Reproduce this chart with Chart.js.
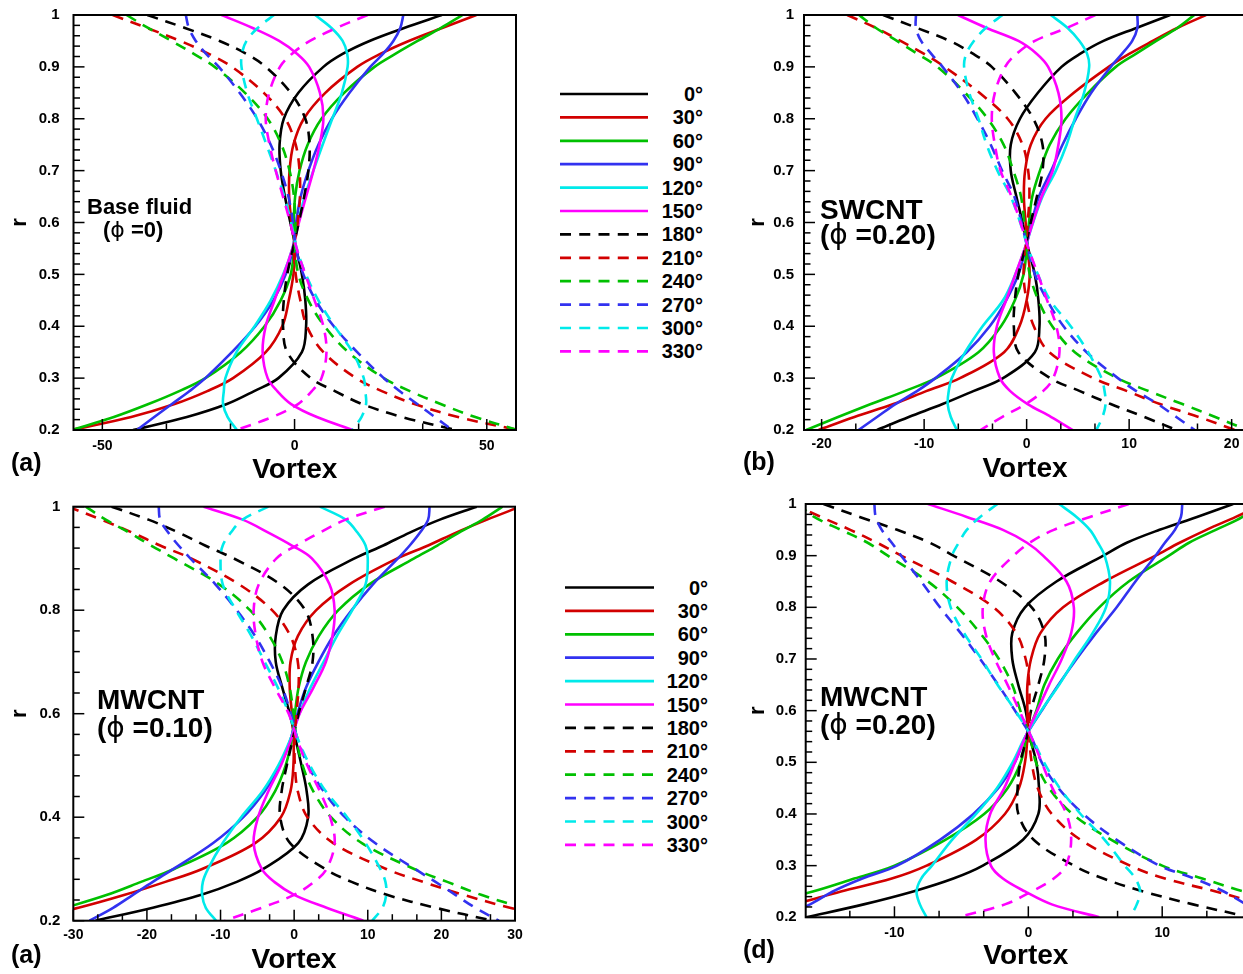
<!DOCTYPE html>
<html>
<head>
<meta charset="utf-8">
<script src="https://cdn.jsdelivr.net/npm/chart.js@4.4.1/dist/chart.umd.min.js"></script>
<style>
body { margin: 0; background: #fff; overflow: hidden; }
#page { position: relative; width: 1243px; height: 974px; overflow: hidden; background: #fff;
        font-family: 'Liberation Sans', Arial, sans-serif; font-weight: bold; color: #000; }
canvas { position: absolute; }
.lbl { position: absolute; white-space: nowrap; line-height: 1; }
.phi { font-family: 'DejaVu Sans', sans-serif; font-weight: normal; }
svg { position: absolute; }
svg text { font-family: 'Liberation Sans', Arial, sans-serif; font-weight: bold; font-size: 20px; }
</style>
</head>
<body>
<div id="page">
  <canvas id="cA" width="530" height="490" style="left:0px;top:0px"></canvas>
  <canvas id="cB" width="506" height="490" style="left:740px;top:0px"></canvas>
  <canvas id="cC" width="530" height="490" style="left:0px;top:490px"></canvas>
  <canvas id="cD" width="506" height="490" style="left:740px;top:490px"></canvas>

  <div class="lbl" style="left:87px;top:196px;font-size:22px">Base fluid</div>
  <div class="lbl" style="left:103px;top:219px;font-size:22px">(<span class="phi">ϕ</span> =0)</div>
  <div class="lbl" style="left:820px;top:196px;font-size:28px">SWCNT</div>
  <div class="lbl" style="left:820px;top:221px;font-size:28px">(<span class="phi">ϕ</span> =0.20)</div>
  <div class="lbl" style="left:97px;top:686px;font-size:28px">MWCNT</div>
  <div class="lbl" style="left:97px;top:714px;font-size:28px">(<span class="phi">ϕ</span> =0.10)</div>
  <div class="lbl" style="left:820px;top:683px;font-size:28px">MWCNT</div>
  <div class="lbl" style="left:820px;top:711px;font-size:28px">(<span class="phi">ϕ</span> =0.20)</div>

  <div class="lbl" style="left:11px;top:450px;font-size:25px">(a)</div>
  <div class="lbl" style="left:743px;top:449px;font-size:25px">(b)</div>
  <div class="lbl" style="left:11px;top:942px;font-size:25px">(a)</div>
  <div class="lbl" style="left:743px;top:937px;font-size:25px">(d)</div>

  <svg id="leg1" width="200" height="300" style="left:540px;top:70px"></svg>
  <svg id="leg2" width="200" height="300" style="left:540px;top:570px"></svg>
</div>
<script>
// angles of the 12 curves, and the r positions where each curve was read
const angles = [0, 30, 60, 90, 120, 150, 180, 210, 240, 270, 300, 330];
const rVals = [1, 0.975, 0.95, 0.925, 0.9, 0.85, 0.8, 0.75, 0.7, 0.65, 0.6, 0.55, 0.5, 0.45, 0.4, 0.35, 0.3, 0.275, 0.25, 0.225, 0.2];

// (a) Base fluid, phi = 0
const vortexA = [
  [38.3, 28.5, 19.5, 12.5, 7.5, 1.0, -2.8, -3.9, -3.6, -2.5, -1.1, 0.4, 1.9, 2.8, 3.0, 1.9, -4.2, -10.5, -17.6, -28, -42],
  [47.3, 38.4, 29.7, 22.3, 16.3, 8.0, 2.4, -0.3, -1.3, -1.4, -0.8, 0.15, -0.3, -1.5, -3.2, -7.5, -16, -22.7, -31.2, -42.5, -58],
  [43.7, 38.1, 32.0, 26.2, 20.8, 12.9, 7.0, 3.4, 1.3, 0.15, -0.2, -0.15, -1.0, -3.6, -7.8, -14, -23.2, -30, -38, -47, -58],
  [28.3, 27.5, 25.7, 23.0, 19.7, 14.3, 9.7, 6.2, 3.6, 1.6, 0.4, -0.4, -2.3, -5.5, -10.2, -16.3, -23.2, -27.3, -31.9, -36.5, -41],
  [5.35, 9.6, 12.5, 13.7, 13.8, 12.3, 9.8, 7.3, 4.9, 2.65, 0.9, -0.55, -2.95, -6.2, -10.4, -15.1, -18.0, -18.4, -18.6, -17.4, -15],
  [-19.0, -10.9, -4.0, 0.7, 3.8, 6.6, 7.5, 6.5, 4.9, 3.0, 1.15, -0.55, -2.8, -5.2, -7.5, -8.3, -7.0, -4.5, -0.9, 5.8, 15.2],
  [-38.3, -28.5, -19.5, -12.5, -7.5, -1.0, 2.8, 3.9, 3.6, 2.5, 1.1, -0.4, -1.9, -2.8, -3.0, -1.9, 4.2, 10.5, 17.6, 28, 42],
  [-47.3, -38.4, -29.7, -22.3, -16.3, -8.0, -2.4, 0.3, 1.3, 1.4, 0.8, -0.15, 0.3, 1.5, 3.2, 7.5, 16, 22.7, 31.2, 42.5, 58],
  [-43.7, -38.1, -32.0, -26.2, -20.8, -12.9, -7.0, -3.4, -1.3, -0.15, 0.2, 0.15, 1.0, 3.6, 7.8, 14, 23.2, 30, 38, 47, 58],
  [-28.3, -27.5, -25.7, -23.0, -19.7, -14.3, -9.7, -6.2, -3.6, -1.6, -0.4, 0.4, 2.3, 5.5, 10.2, 16.3, 23.2, 27.3, 31.9, 36.5, 41],
  [-5.35, -9.6, -12.5, -13.7, -13.8, -12.3, -9.8, -7.3, -4.9, -2.65, -0.9, 0.55, 2.95, 6.2, 10.4, 15.1, 18.0, 18.4, 18.6, 17.4, 15],
  [19.0, 10.9, 4.0, -0.7, -3.8, -6.6, -7.5, -6.5, -4.9, -3.0, -1.15, 0.55, 2.8, 5.2, 7.5, 8.3, 7.0, 4.5, 0.9, -5.8, -15.2]
];

// (b) SWCNT, phi = 0.20
const vortexB = [
  [14.0, 10.7, 7.5, 5.2, 3.4, 1.1, -0.65, -1.55, -1.55, -1.0, -0.4, 0.15, 0.8, 1.15, 1.25, 0.8, -2.3, -5.2, -8.2, -11.5, -14.6],
  [17.5, 14.7, 12.3, 10.0, 8.0, 4.6, 1.85, 0.4, -0.15, -0.27, -0.1, 0.08, 0.3, 0, -0.7, -2.2, -6.5, -9.8, -13.0, -16.8, -20.3],
  [16.35, 14.7, 12.65, 10.65, 8.7, 6.0, 3.8, 2.25, 1.3, 0.55, 0.23, 0, -0.3, -1.15, -2.5, -4.7, -8.85, -11.9, -15.2, -18.4, -21.5],
  [10.8, 10.8, 10.3, 9.3, 8.2, 6.3, 4.8, 3.5, 2.4, 1.2, 0.5, -0.1, -0.8, -2.0, -3.6, -5.85, -8.9, -10.7, -12.8, -14.6, -16.4],
  [2.35, 4.0, 5.15, 5.9, 6.1, 5.6, 4.7, 3.9, 2.85, 1.55, 0.63, -0.17, -1.1, -2.3, -4.3, -6.0, -7.3, -7.6, -7.7, -7.4, -6.8],
  [-6.7, -3.9, -0.8, 1.0, 2.1, 3.1, 3.4, 3.1, 2.55, 1.47, 0.6, -0.18, -1.1, -2.0, -2.9, -3.2, -2.6, -1.6, 0.1, 2.4, 4.5],
  [-14.0, -10.7, -7.5, -5.2, -3.4, -1.1, 0.65, 1.55, 1.55, 1.0, 0.4, -0.15, -0.8, -1.15, -1.25, -0.8, 2.3, 5.2, 8.2, 11.5, 14.6],
  [-17.5, -14.7, -12.3, -10.0, -8.0, -4.6, -1.85, -0.4, 0.15, 0.27, 0.1, -0.08, -0.3, 0, 0.7, 2.2, 6.5, 9.8, 13.0, 16.8, 20.3],
  [-16.35, -14.7, -12.65, -10.65, -8.7, -6.0, -3.8, -2.25, -1.3, -0.55, -0.23, 0, 0.3, 1.15, 2.5, 4.7, 8.85, 11.9, 15.2, 18.4, 21.5],
  [-10.8, -10.8, -10.3, -9.3, -8.2, -6.3, -4.8, -3.5, -2.4, -1.2, -0.5, 0.1, 0.8, 2.0, 3.6, 5.85, 8.9, 10.7, 12.8, 14.6, 16.4],
  [-2.35, -4.0, -5.15, -5.9, -6.1, -5.6, -4.7, -3.9, -2.85, -1.55, -0.63, 0.17, 1.1, 2.3, 4.3, 6.0, 7.3, 7.6, 7.7, 7.4, 6.8],
  [6.7, 3.9, 0.8, -1.0, -2.1, -3.1, -3.4, -3.1, -2.55, -1.47, -0.6, 0.18, 1.1, 2.0, 2.9, 3.2, 2.6, 1.6, -0.1, -2.4, -4.5]
];

// (c) MWCNT, phi = 0.10
const vortexC = [
  [24.8, 19.8, 15.7, 12.1, 8.2, 1.9, -1.5, -2.5, -2.5, -1.6, -0.6, 0.2, 1.0, 1.7, 1.9, 0.55, -4.2, -7.8, -12.6, -19.2, -27.0],
  [30.7, 26.2, 22.0, 18.2, 14.0, 7.5, 3.0, 0.5, -0.5, -0.6, -0.3, -0.08, -0.1, -0.5, -1.8, -5.3, -12.5, -17.5, -23, -29.3, -37.2],
  [28.3, 25.6, 22.4, 19.45, 16.3, 10.2, 6.0, 3.35, 1.6, 0.6, 0.1, -0.33, -1.15, -2.6, -5.0, -9.2, -16.3, -20.8, -25.4, -31.1, -37.5],
  [18.4, 18.2, 17.1, 15.7, 14.1, 10.7, 7.8, 5.3, 3.3, 1.6, 0.45, -0.5, -1.9, -4.0, -6.9, -11.0, -16.4, -19.2, -21.9, -24.6, -27.8],
  [3.5, 7.0, 8.6, 9.7, 10.0, 9.7, 7.9, 5.8, 4.0, 2.2, 0.7, -0.53, -2.15, -4.3, -7.2, -9.7, -11.7, -12.4, -12.5, -12.0, -10.6],
  [-12.3, -7.0, -3.5, -0.3, 2.4, 4.8, 5.5, 5.2, 4.3, 2.6, 0.74, -0.42, -1.8, -3.5, -4.9, -5.5, -4.4, -2.7, 0, 4.4, 9.4],
  [-24.8, -19.8, -15.7, -12.1, -8.2, -1.9, 1.5, 2.5, 2.5, 1.6, 0.6, -0.2, -1.0, -1.7, -1.9, -0.55, 4.2, 7.8, 12.6, 19.2, 27.0],
  [-30.7, -26.2, -22.0, -18.2, -14.0, -7.5, -3.0, -0.5, 0.5, 0.6, 0.3, 0.08, 0.1, 0.5, 1.8, 5.3, 12.5, 17.5, 23, 29.3, 37.2],
  [-28.3, -25.6, -22.4, -19.45, -16.3, -10.2, -6.0, -3.35, -1.6, -0.6, -0.1, 0.33, 1.15, 2.6, 5.0, 9.2, 16.3, 20.8, 25.4, 31.1, 37.5],
  [-18.4, -18.2, -17.1, -15.7, -14.1, -10.7, -7.8, -5.3, -3.3, -1.6, -0.45, 0.5, 1.9, 4.0, 6.9, 11.0, 16.4, 19.2, 21.9, 24.6, 27.8],
  [-3.5, -7.0, -8.6, -9.7, -10.0, -9.7, -7.9, -5.8, -4.0, -2.2, -0.7, 0.53, 2.15, 4.3, 7.2, 9.7, 11.7, 12.4, 12.5, 12.0, 10.6],
  [12.3, 7.0, 3.5, 0.3, -2.4, -4.8, -5.5, -5.2, -4.3, -2.6, -0.74, 0.42, 1.8, 3.5, 4.9, 5.5, 4.4, 2.7, 0, -4.4, -9.4]
];

// (d) MWCNT, phi = 0.20
const vortexD = [
  [15.3, 12.6, 9.8, 7.35, 5.6, 2.1, -0.25, -1.2, -1.2, -0.75, -0.2, 0.1, 0.6, 0.8, 0.75, -0.4, -3.4, -5.6, -8.6, -12.3, -16.6],
  [17.6, 15.5, 13.3, 11.3, 9.5, 5.7, 2.6, 0.9, 0.2, -0.07, -0.07, -0.07, -0.25, -0.7, -1.75, -3.9, -7.6, -10.2, -14.0, -17.5, -21.5],
  [17.2, 16.0, 14.0, 12.0, 10.5, 7.5, 5.3, 3.6, 2.2, 1.2, 0.6, -0.12, -0.57, -1.55, -3.3, -6.2, -10.0, -13.0, -16.1, -20.0, -24.3],
  [11.5, 11.4, 10.95, 10.2, 9.5, 8.0, 6.6, 5.05, 3.6, 2.25, 1.0, -0.2, -1.0, -2.25, -4.1, -6.6, -9.8, -12.4, -14.6, -16.3, -18.5],
  [2.3, 3.6, 4.6, 5.2, 5.7, 6.1, 5.8, 4.8, 3.5, 2.3, 0.97, -0.22, -1.17, -2.35, -3.9, -5.7, -7.2, -8.0, -8.35, -8.1, -7.6],
  [-7.5, -4.6, -1.9, -0.1, 1.1, 2.85, 3.4, 3.2, 2.5, 1.55, 0.67, -0.2, -1.0, -1.8, -2.85, -3.2, -2.8, -1.9, -0.25, 1.75, 5.3],
  [-15.3, -12.6, -9.8, -7.35, -5.6, -2.1, 0.25, 1.2, 1.2, 0.75, 0.2, -0.1, -0.6, -0.8, -0.75, 0.4, 3.4, 5.6, 8.6, 12.3, 16.6],
  [-17.6, -15.5, -13.3, -11.3, -9.5, -5.7, -2.6, -0.9, -0.2, 0.07, 0.07, 0.07, 0.25, 0.7, 1.75, 3.9, 7.6, 10.2, 14.0, 17.5, 21.5],
  [-17.2, -16.0, -14.0, -12.0, -10.5, -7.5, -5.3, -3.6, -2.2, -1.2, -0.6, 0.12, 0.57, 1.55, 3.3, 6.2, 10.0, 13.0, 16.1, 20.0, 24.3],
  [-11.5, -11.4, -10.95, -10.2, -9.5, -8.0, -6.6, -5.05, -3.6, -2.25, -1.0, 0.2, 1.0, 2.25, 4.1, 6.6, 9.8, 12.4, 14.6, 16.3, 18.5],
  [-2.3, -3.6, -4.6, -5.2, -5.7, -6.1, -5.8, -4.8, -3.5, -2.3, -0.97, 0.22, 1.17, 2.35, 3.9, 5.7, 7.2, 8.0, 8.35, 8.1, 7.6],
  [7.5, 4.6, 1.9, 0.1, -1.1, -2.85, -3.4, -3.2, -2.5, -1.55, -0.67, 0.2, 1.0, 1.8, 2.85, 3.2, 2.8, 1.9, 0.25, -1.75, -5.3]
];

// tick labels
const xTicksA = [-50, 0, 50];
const xTicksB = [-20, -10, 0, 10, 20];
const xTicksC = [-30, -20, -10, 0, 10, 20, 30];
const xTicksD = [-10, 0, 10];
const yTicksFine = [0.2, 0.3, 0.4, 0.5, 0.6, 0.7, 0.8, 0.9, 1];
const yTicksCoarse = [0.2, 0.4, 0.6, 0.8, 1];

const colors = ['#000000', '#d20000', '#00c000', '#3232f0', '#00eaea', '#ff00ff'];
const FONT = "'Liberation Sans', Arial, sans-serif";

// frame round the plot and Tecplot-like inward ticks (major + minor)
const frameTicks = {
  id: 'frameTicks',
  afterDatasetsDraw(chart, args, opts) {
    const {ctx, chartArea: a} = chart;
    const xs = chart.scales.x, ys = chart.scales.y;
    ctx.save();
    ctx.strokeStyle = '#000';
    ctx.lineWidth = 1.5;
    const mark = (scale, major, minor, horiz) => {
      const k0 = Math.ceil(scale.min / minor - 1e-6);
      const k1 = Math.floor(scale.max / minor + 1e-6);
      for (let k = k0; k <= k1; k++) {
        const v = k * minor;
        const q = v / major;
        const len = Math.abs(q - Math.round(q)) < 1e-6 ? 11 : 6.5;
        const p = scale.getPixelForValue(v);
        ctx.beginPath();
        if (horiz) { ctx.moveTo(p, a.bottom); ctx.lineTo(p, a.bottom - len); }
        else { ctx.moveTo(a.left, p); ctx.lineTo(a.left + len, p); }
        ctx.stroke();
      }
    };
    mark(xs, opts.xMajor, opts.xMinor, true);
    mark(ys, opts.yMajor, opts.yMinor, false);
    ctx.lineWidth = 2;
    ctx.strokeRect(a.left, a.top, a.right - a.left, a.bottom - a.top);
    ctx.restore();
  }
};

function makePanel(id, rows, cfg) {
  const datasets = rows.map((vals, i) => ({
    label: angles[i] + '°',
    data: vals.map((v, j) => ({x: v, y: rVals[j]})),
    borderColor: colors[i % 6],
    backgroundColor: colors[i % 6],
    borderWidth: 2.6,
    borderDash: i < 6 ? [] : [11, 8],
    pointRadius: 0,
    showLine: true,
    fill: false,
    tension: 0.35,
    order: 12 - i
  }));

  new Chart(document.getElementById(id), {
    type: 'scatter',
    data: { datasets },
    plugins: [frameTicks],
    options: {
      responsive: false,
      animation: false,
      devicePixelRatio: 1,
      layout: { padding: { top: cfg.padTop, right: cfg.padRight, left: 0, bottom: 0 } },
      plugins: {
        legend: { display: false },
        tooltip: { enabled: false },
        frameTicks: { xMajor: cfg.xMajor, xMinor: cfg.xMajor / 3, yMajor: cfg.yMajor, yMinor: cfg.yMajor / 5 }
      },
      scales: {
        x: {
          type: 'linear',
          min: cfg.xMin,
          max: cfg.xMax,
          afterBuildTicks: s => { s.ticks = cfg.xTicks.map(v => ({ value: v })); },
          afterFit: s => { s.height = cfg.xHeight; s.paddingLeft = 0; s.paddingRight = 0; },
          grid: { display: false, drawTicks: false },
          border: { display: false },
          ticks: {
            autoSkip: false, maxRotation: 0, padding: cfg.xLabPad, color: '#000',
            font: { family: FONT, weight: 'bold', size: 14 },
            callback: v => String(v)
          },
          title: {
            display: true, text: 'Vortex', color: '#000',
            font: { family: FONT, weight: 'bold', size: 28 },
            padding: { top: 0, bottom: cfg.xTitlePad }
          }
        },
        y: {
          type: 'linear',
          min: 0.2,
          max: 1,
          afterBuildTicks: s => { s.ticks = cfg.yTicks.map(v => ({ value: v })); },
          afterFit: s => { s.width = cfg.yWidth; s.paddingTop = 0; s.paddingBottom = 0; },
          grid: { display: false, drawTicks: false },
          border: { display: false },
          ticks: {
            autoSkip: false, padding: cfg.yLabPad, color: '#000',
            font: { family: FONT, weight: 'bold', size: 15 },
            callback: v => v === 1 ? '1' : String(v)
          },
          title: {
            display: true, text: 'r', color: '#000',
            font: { family: FONT, weight: 'bold', size: 22 },
            padding: { top: cfg.rPad, bottom: 0 }
          }
        }
      }
    }
  });
}

makePanel('cA', vortexA, {
  padTop: 15, padRight: 14, xHeight: 60, yWidth: 73.5,
  xMin: -57.5, xMax: 57.6, xTicks: xTicksA, xMajor: 50,
  yTicks: yTicksFine, yMajor: 0.1,
  xLabPad: 8, yLabPad: 14, xTitlePad: 3, rPad: 7
});
makePanel('cB', vortexB, {
  padTop: 15, padRight: 0, xHeight: 60, yWidth: 64,
  xMin: -21.72, xMax: 21.4, xTicks: xTicksB, xMajor: 10,
  yTicks: yTicksFine, yMajor: 0.1,
  xLabPad: 6, yLabPad: 10, xTitlePad: 4, rPad: 5
});
makePanel('cC', vortexC, {
  padTop: 16.7, padRight: 15, xHeight: 59.3, yWidth: 73.3,
  xMin: -30, xMax: 30, xTicks: xTicksC, xMajor: 10,
  yTicks: yTicksCoarse, yMajor: 0.2,
  xLabPad: 6, yLabPad: 13, xTitlePad: 3, rPad: 7
});
makePanel('cD', vortexD, {
  padTop: 14, padRight: 0, xHeight: 62.7, yWidth: 65.7,
  xMin: -16.63, xMax: 16.26, xTicks: xTicksD, xMajor: 10,
  yTicks: yTicksFine, yMajor: 0.1,
  xLabPad: 7, yLabPad: 9, xTitlePad: 7, rPad: 5
});

// legends
function makeLegend(svgId, x0, x1, y0, textRight) {
  const svg = document.getElementById(svgId);
  const ns = 'http://www.w3.org/2000/svg';
  angles.forEach((a, i) => {
    const y = y0 + i * 23.4;
    const ln = document.createElementNS(ns, 'line');
    ln.setAttribute('x1', x0); ln.setAttribute('x2', x1);
    ln.setAttribute('y1', y); ln.setAttribute('y2', y);
    ln.setAttribute('stroke', colors[i % 6]);
    ln.setAttribute('stroke-width', 2.7);
    if (i >= 6) ln.setAttribute('stroke-dasharray', '11 8.25');
    svg.appendChild(ln);
    const t = document.createElementNS(ns, 'text');
    t.setAttribute('x', textRight); t.setAttribute('y', y + 7);
    t.setAttribute('text-anchor', 'end');
    t.textContent = a + '°';
    svg.appendChild(t);
  });
}
makeLegend('leg1', 20, 108, 24, 163);
makeLegend('leg2', 25, 114, 17.5, 168);
</script>
</body>
</html>
